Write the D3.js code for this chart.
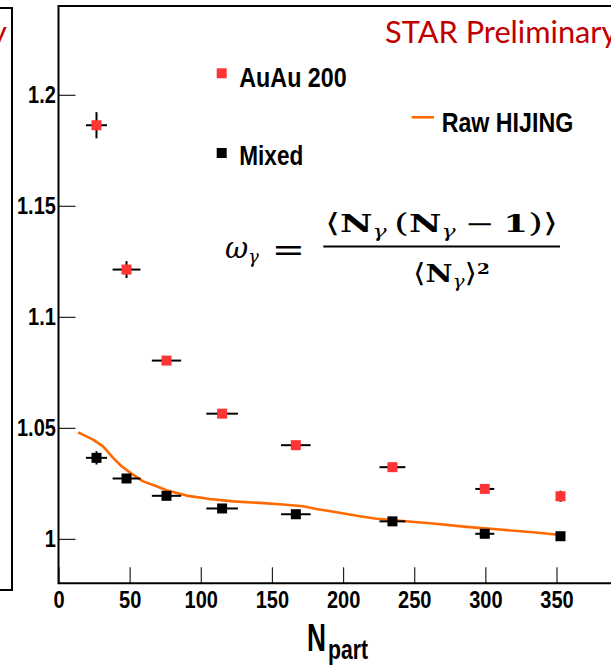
<!DOCTYPE html>
<html>
<head>
<meta charset="utf-8">
<script src="https://cdn.jsdelivr.net/npm/d3@7"></script>
<style>
  html, body { margin: 0; padding: 0; background: #fff; overflow: hidden; }
</style>
</head>
<body>
<svg id="chart" width="611" height="666"></svg>
<script>
// Centrality bins: mean N_part and its uncertainty
const npart    = [26.7, 47.8, 75.9, 115.0, 166.8, 234.7, 299.6, 352.8];
const npartErr = [7.4, 9.8, 10.3, 11.1, 10.4, 9.1, 6.7, 2.5];

// omega_gamma for AuAu 200 GeV data
const auau    = [1.1863, 1.1213, 1.0803, 1.0564, 1.0422, 1.0323, 1.0225, 1.0192];
const auauErr = [0.0059, 0.0038, 0.0018, 0.0015, 0.0015, 0.0015, 0.0015, 0.0025];

// omega_gamma for mixed events
const mixed    = [1.0365, 1.0272, 1.0194, 1.0137, 1.0111, 1.0079, 1.0023, 1.0012];
const mixedErr = [0.0030, 0.0020, 0.0015, 0.0015, 0.0015, 0.0015, 0.0015, 0.0015];

// Raw HIJING curve
const hijingNpart = [13.8, 24.3, 31.3, 38.4, 44.3, 51.3, 59.5, 68.9, 75.9, 90.0, 106.3, 122.7,
                     141.5, 157.8, 171.9, 181.3, 195.4, 211.8, 223.5, 239.8, 263.3, 286.7,
                     310.2, 333.5, 351.1];
const hijingOmega = [1.0480, 1.0447, 1.0417, 1.0365, 1.0327, 1.0294, 1.0259, 1.0237, 1.0219,
                     1.0195, 1.0180, 1.0169, 1.0162, 1.0155, 1.0147, 1.0135, 1.0120, 1.0102,
                     1.0091, 1.0082, 1.0069, 1.0054, 1.0042, 1.0030, 1.0019];

const xTicks = [0, 50, 100, 150, 200, 250, 300, 350];
const yTicks = [1, 1.05, 1.1, 1.15, 1.2];

const RED = "#ff3535";
const ORANGE = "#ff6a00";
const STAR_RED = "#c00000";
const SANS = "'Liberation Sans', Arial, Helvetica, sans-serif";
const SERIF = "'DejaVu Serif', 'DejaVu Sans', serif";

const svg = d3.select("#chart");

const x = d3.scaleLinear().domain([0, 390]).range([58.5, 613.4]);
const y = d3.scaleLinear().domain([0.98, 1.24]).range([583.3, 6]);

// Stretch a text element horizontally so it spans [x0, x1] with the given baseline
function fitText(t, x0, x1, baseline) {
  t.attr("x", 0).attr("y", 0);
  const b = t.node().getBBox();
  const sx = (x1 - x0) / b.width;
  t.attr("transform", `translate(${x0 - b.x * sx},${baseline}) scale(${sx},1)`);
  return t;
}

// Edge of the neighbouring panel on the left
svg.append("path")
  .attr("d", "M-50,8H12V590H-50")
  .attr("fill", "none").attr("stroke", "#000").attr("stroke-width", 2);

const starLeft = svg.append("text")
  .attr("font-family", "Lato, 'Open Sans', sans-serif")
  .attr("font-size", 30).attr("fill", STAR_RED)
  .text("STAR Preliminary");
fitText(starLeft, 7.5 - 233, 7.5, 43.3);

// Axes
const yAxis = d3.axisLeft(y).tickValues(yTicks)
  .tickSizeInner(-17).tickSizeOuter(0).tickPadding(3)
  .tickFormat(d => String(+d.toFixed(2)));
const gy = svg.append("g").attr("transform", `translate(${x(0)},0)`).call(yAxis);
gy.select(".domain").remove();
gy.selectAll(".tick line").attr("stroke", "#222").attr("stroke-width", 1.2);
gy.selectAll(".tick text")
  .attr("font-family", SANS).attr("font-weight", "bold").attr("font-size", 23)
  .attr("fill", "#000").attr("transform", "scale(0.87,1)");

const xAxis = d3.axisBottom(x).tickValues(xTicks)
  .tickSizeInner(-16).tickSizeOuter(0).tickPadding(8)
  .tickFormat(d => String(d));
const gx = svg.append("g").attr("transform", `translate(0,${y(0.98)})`).call(xAxis);
gx.select(".domain").remove();
gx.selectAll(".tick line").attr("stroke", "#222").attr("stroke-width", 1.2);
gx.selectAll(".tick text")
  .attr("font-family", SANS).attr("font-weight", "bold").attr("font-size", 23)
  .attr("fill", "#000").attr("transform", "scale(0.87,1)");

// Frame (right edge lies beyond the visible area)
svg.append("path")
  .attr("d", `M700,${y(1.24)}H${x(0)}V${y(0.98)}H700`)
  .attr("fill", "none").attr("stroke", "#000").attr("stroke-width", 2);

// Axis title N_part
const nTitle = svg.append("text")
  .attr("font-family", SANS).attr("font-weight", "bold").attr("font-size", 39)
  .attr("fill", "#000").text("N");
fitText(nTitle, 307, 326, 651);
const subTitle = svg.append("text")
  .attr("font-family", SANS).attr("font-weight", "bold").attr("font-size", 28)
  .attr("fill", "#000").text("part");
fitText(subTitle, 328, 368, 659);

// Raw HIJING curve
const hijing = hijingNpart.map((n, i) => [n, hijingOmega[i]]);
svg.append("path")
  .datum(hijing)
  .attr("fill", "none").attr("stroke", ORANGE).attr("stroke-width", 2.6)
  .attr("stroke-linejoin", "round")
  .attr("d", d3.line().x(d => x(d[0])).y(d => y(d[1])));

// Data points with error bars
function drawSeries(values, errs, color) {
  const pts = npart.map((n, i) => ({ n, ne: npartErr[i], v: values[i], ve: errs[i] }));
  const g = svg.append("g");
  g.selectAll("line.h").data(pts).join("line").attr("class", "h")
    .attr("x1", d => x(d.n - d.ne)).attr("x2", d => x(d.n + d.ne))
    .attr("y1", d => y(d.v)).attr("y2", d => y(d.v))
    .attr("stroke", "#000").attr("stroke-width", 2);
  g.selectAll("line.v").data(pts).join("line").attr("class", "v")
    .attr("x1", d => x(d.n)).attr("x2", d => x(d.n))
    .attr("y1", d => y(d.v - d.ve)).attr("y2", d => y(d.v + d.ve))
    .attr("stroke", "#000").attr("stroke-width", 2);
  g.selectAll("rect").data(pts).join("rect")
    .attr("x", d => x(d.n) - 5).attr("y", d => y(d.v) - 5)
    .attr("width", 10).attr("height", 10)
    .attr("fill", color);
}
drawSeries(mixed, mixedErr, "#000");
drawSeries(auau, auauErr, RED);

// Legend
svg.append("rect").attr("x", 216.7).attr("y", 68.3).attr("width", 10).attr("height", 10).attr("fill", RED);
fitText(svg.append("text").attr("font-family", SANS).attr("font-weight", "bold")
  .attr("font-size", 27).attr("fill", "#000").text("AuAu 200"), 239.3, 346.7, 86.7);

svg.append("line").attr("x1", 411.7).attr("x2", 434).attr("y1", 117.3).attr("y2", 117.3)
  .attr("stroke", ORANGE).attr("stroke-width", 2.6);
fitText(svg.append("text").attr("font-family", SANS).attr("font-weight", "bold")
  .attr("font-size", 27).attr("fill", "#000").text("Raw HIJING"), 441.7, 573.3, 131.7);

svg.append("rect").attr("x", 216.7).attr("y", 148).attr("width", 10).attr("height", 10).attr("fill", "#000");
fitText(svg.append("text").attr("font-family", SANS).attr("font-weight", "bold")
  .attr("font-size", 27).attr("fill", "#000").text("Mixed"), 239.3, 303.3, 165);

// Preliminary label
const star = svg.append("text")
  .attr("font-family", "Lato, 'Open Sans', sans-serif")
  .attr("font-size", 30).attr("fill", STAR_RED)
  .text("STAR Preliminary");
fitText(star, 385, 618, 43.3);

// Definition of omega_gamma
const lhs = svg.append("text").attr("font-family", SERIF).attr("fill", "#000");
lhs.append("tspan").attr("font-style", "italic").attr("font-size", 29).text("ω");
lhs.append("tspan").attr("font-style", "italic").attr("font-size", 18).attr("dy", 5).text("γ");
fitText(lhs, 225, 259, 258);

const eq = svg.append("text").attr("font-family", SERIF).attr("font-size", 32)
  .attr("fill", "#000").text("=");
fitText(eq, 271.7, 305, 261);

svg.append("line").attr("x1", 323.3).attr("x2", 560).attr("y1", 246.5).attr("y2", 246.5)
  .attr("stroke", "#000").attr("stroke-width", 1.8);

const num = svg.append("text").attr("font-family", SERIF).attr("fill", "#000");
num.append("tspan").attr("font-size", 26).text("⟨");
num.append("tspan").attr("font-size", 24).attr("font-weight", "bold").text("N");
num.append("tspan").attr("font-size", 16).attr("font-style", "italic").attr("dy", 5).text("γ");
num.append("tspan").attr("font-size", 26).attr("dy", -5).attr("dx", 5).text("(");
num.append("tspan").attr("font-size", 24).attr("font-weight", "bold").text("N");
num.append("tspan").attr("font-size", 16).attr("font-style", "italic").attr("dy", 5).text("γ");
num.append("tspan").attr("font-size", 24).attr("dy", -5).attr("dx", 6).text("−");
num.append("tspan").attr("font-size", 24).attr("font-weight", "bold").attr("dx", 6).text("1");
num.append("tspan").attr("font-size", 26).text(")");
num.append("tspan").attr("font-size", 26).text("⟩");
fitText(num, 325, 558, 231.7);

const den = svg.append("text").attr("font-family", SERIF).attr("fill", "#000");
den.append("tspan").attr("font-size", 26).text("⟨");
den.append("tspan").attr("font-size", 24).attr("font-weight", "bold").text("N");
den.append("tspan").attr("font-size", 16).attr("font-style", "italic").attr("dy", 5).text("γ");
den.append("tspan").attr("font-size", 26).attr("dy", -5).text("⟩");
den.append("tspan").attr("font-size", 15).attr("font-weight", "bold").attr("dy", -8).text("2");
fitText(den, 413, 490, 281.7);
</script>
</body>
</html>
